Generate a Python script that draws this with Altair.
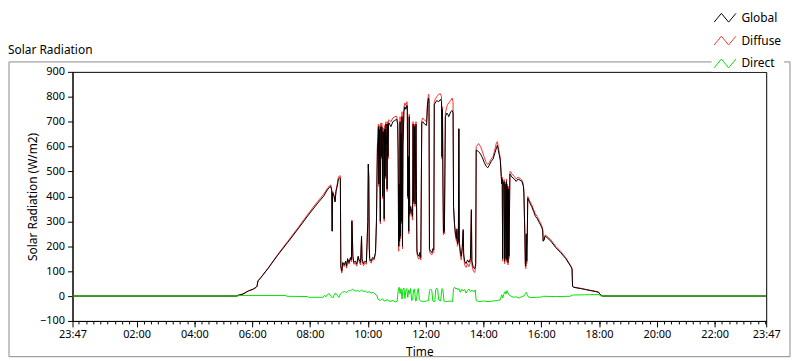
import altair as alt
import pandas as pd

# ---------------- data ----------------
times = [
    "23:47", "05:28", "05:31", "05:41", "05:52", "06:02", "06:08", "06:10", "06:12", "06:18",
    "06:33", "06:53", "07:14", "07:35", "07:55", "08:16", "08:28", "08:36", "08:40", "08:43",
    "08:45", "08:46", "08:47", "08:50", "08:52", "08:54", "08:57", "08:59", "09:02", "09:03",
    "09:04", "09:06", "09:08", "09:11", "09:14", "09:16", "09:18", "09:21", "09:24", "09:26",
    "09:27", "09:28", "09:29", "09:31", "09:34", "09:37", "09:40", "09:42", "09:45", "09:47",
    "09:48", "09:51", "09:54", "09:57", "10:00", "10:01", "10:02", "10:03", "10:04", "10:07",
    "10:10", "10:13", "10:16", "10:18", "10:19", "10:20", "10:21", "10:22", "10:23", "10:24",
    "10:25", "10:26", "10:27", "10:28", "10:29", "10:30", "10:31", "10:32", "10:33", "10:34",
    "10:35", "10:36", "10:37", "10:38", "10:39", "10:40", "10:41", "10:42", "10:43",
    "10:44", "10:48", "10:52", "10:56", "11:00", "11:02", "11:03", "11:04", "11:05", "11:06",
    "11:07", "11:08", "11:09", "11:10", "11:11", "11:12", "11:13", "11:15", "11:17", "11:19",
    "11:21", "11:22", "11:23", "11:24", "11:25", "11:26", "11:27", "11:29", "11:31", "11:33",
    "11:34", "11:35", "11:37", "11:38", "11:40", "11:41", "11:42", "11:44", "11:46", "11:48",
    "11:50", "11:52", "11:54", "11:58", "12:02", "12:04", "12:06", "12:07", "12:08", "12:10",
    "12:13", "12:15", "12:17", "12:18", "12:20", "12:23", "12:27", "12:31", "12:33", "12:34",
    "12:35", "12:36", "12:37", "12:38", "12:39", "12:41", "12:44", "12:46", "12:48", "12:52",
    "12:55", "12:57", "12:58", "13:00", "13:02", "13:04", "13:05", "13:06", "13:08", "13:09",
    "13:10", "13:12", "13:14", "13:16", "13:18", "13:19", "13:21", "13:24", "13:27", "13:30",
    "13:33", "13:35", "13:36", "13:39", "13:42", "13:44", "13:45", "13:50", "13:54", "13:58",
    "14:02", "14:06", "14:09", "14:12", "14:16", "14:20", "14:24", "14:27", "14:29", "14:31",
    "14:33", "14:35", "14:37", "14:38", "14:39", "14:40", "14:41", "14:43", "14:44", "14:45",
    "14:47", "14:48", "14:49", "14:50", "14:51", "14:52", "14:53", "14:55", "14:57", "14:59",
    "15:04", "15:08", "15:12", "15:16", "15:20", "15:23", "15:24", "15:26", "15:27", "15:28",
    "15:29", "15:30", "15:31", "15:32", "15:36", "15:40", "15:44", "15:48", "15:52", "15:56",
    "16:00", "16:03", "16:04", "16:06", "16:08", "16:10", "16:20", "16:30", "16:40", "16:51",
    "17:01", "17:04", "17:05", "17:07", "17:22", "17:32", "17:42", "17:53", "17:59", "18:03",
    "18:07", "23:47",
]

global_vals = [
    0, 0, 3, 8, 20, 28, 35, 40, 61, 74,
    111, 164, 216, 269, 321, 373, 400, 426, 436, 440,
    425, 260, 415, 400, 378, 420, 445, 470, 475, 470,
    120, 100, 135, 125, 140, 120, 150, 135, 155, 145,
    300, 240, 160, 135, 140, 128, 160, 145, 135, 240,
    150, 130, 140, 135, 300, 530, 480, 200, 150, 140,
    155, 150, 175, 300, 466, 600, 620, 680, 450, 670,
    520, 300, 680, 560, 680, 650, 400, 660, 620, 310,
    670, 480, 680, 690, 600, 430, 690, 560, 690,
    695, 680, 700, 705, 710, 690, 570, 200, 450, 220,
    700, 240, 650, 300, 720, 200, 600, 740, 760, 750,
    765, 760, 400, 560, 260, 720, 330, 360, 340, 320,
    690, 380, 680, 370, 690, 420, 180, 165, 160, 175,
    155, 695, 700, 690, 685, 770, 795, 785, 190, 180,
    175, 190, 185, 770, 775, 785, 780, 790, 780, 560,
    750, 450, 255, 280, 260, 720, 735, 730, 720, 740,
    745, 735, 360, 290, 250, 230, 270, 210, 220, 672,
    220, 180, 160, 195, 267, 170, 140, 130, 145, 135,
    150, 347, 140, 115, 110, 130, 586, 580, 570, 555,
    535, 520, 515, 525, 540, 550, 575, 595, 605, 585,
    565, 545, 480, 450, 470, 150, 440, 460, 140, 450,
    150, 460, 145, 440, 135, 430, 160, 490, 485, 478,
    470, 460, 470, 465, 460, 440, 414, 250, 130, 120,
    250, 140, 230, 393, 375, 360, 340, 320, 310, 295,
    280, 265, 220, 225, 240, 238, 220, 195, 175, 150,
    120, 108, 40, 35, 30, 26, 22, 18, 15, 5,
    0, 0,
]

diffuse_vals = [
    0, 0, 3, 9, 21, 27, 34, 38, 60, 74,
    112, 167, 220, 274, 327, 380, 408, 432, 442, 446,
    430, 262, 420, 405, 380, 425, 455, 478, 484, 482,
    115, 92, 130, 118, 135, 112, 145, 128, 150, 138,
    305, 235, 152, 128, 132, 120, 155, 138, 125, 235,
    142, 122, 132, 128, 295, 525, 470, 190, 140, 132,
    148, 145, 170, 305, 470, 610, 640, 690, 440, 685,
    510, 290, 695, 550, 695, 665, 390, 675, 630, 300,
    685, 470, 695, 700, 610, 420, 700, 550, 705,
    708, 700, 715, 720, 722, 700, 560, 180, 440, 200,
    720, 230, 660, 290, 740, 190, 610, 760, 775, 765,
    780, 770, 390, 550, 250, 730, 320, 350, 330, 305,
    700, 370, 690, 360, 700, 410, 170, 155, 148, 165,
    145, 705, 715, 705, 700, 780, 810, 800, 180, 170,
    165, 180, 175, 780, 790, 800, 810, 812, 800, 550,
    760, 440, 245, 270, 250, 735, 760, 770, 775, 785,
    795, 780, 355, 280, 240, 220, 260, 200, 210, 670,
    205, 165, 145, 185, 260, 160, 125, 115, 130, 118,
    135, 340, 125, 100, 95, 120, 600, 612, 600, 580,
    555, 535, 528, 535, 550, 560, 590, 615, 620, 598,
    575, 555, 490, 455, 478, 140, 450, 468, 130, 458,
    140, 470, 135, 450, 125, 440, 150, 500, 498, 490,
    480, 470, 478, 472, 465, 448, 420, 240, 120, 110,
    245, 130, 225, 400, 382, 368, 348, 330, 318, 302,
    288, 270, 222, 228, 245, 243, 226, 200, 180, 154,
    122, 110, 42, 36, 31, 27, 23, 19, 16, 5,
    0, 0,
]

direct_times = [
    "23:47", "05:30", "05:32", "07:10", "07:12", "07:55", "07:57", "08:27", "08:30", "08:33",
    "08:36", "08:40", "08:43", "08:47", "08:50", "08:53", "08:57", "09:00", "09:03", "09:07",
    "09:12", "09:16", "09:20", "09:24", "09:28", "09:31", "09:35", "09:39", "09:43", "09:47",
    "09:51", "09:55", "09:59", "10:03", "10:07", "10:11", "10:15", "10:19", "10:21", "10:26",
    "10:30", "10:34", "10:40", "10:46", "10:52", "10:58", "11:01", "11:03", "11:05", "11:07",
    "11:09", "11:11", "11:13", "11:15", "11:17", "11:19", "11:21", "11:23", "11:25", "11:27",
    "11:29", "11:31", "11:33", "11:35", "11:37", "11:39", "11:41", "11:43", "11:45", "11:47",
    "11:50", "11:56", "12:02", "12:06", "12:08", "12:10", "12:13", "12:15", "12:19", "12:21",
    "12:23", "12:25", "12:27", "12:31", "12:34", "12:36", "12:38", "12:44", "12:50", "12:56",
    "12:58", "13:00", "13:03", "13:05", "13:07", "13:09", "13:12", "13:15", "13:18", "13:21",
    "13:24", "13:27", "13:30", "13:33", "13:36", "13:40", "13:43", "13:45", "13:50", "14:00",
    "14:10", "14:20", "14:30", "14:35", "14:38", "14:40", "14:43", "14:45", "14:47", "14:49",
    "14:51", "14:53", "14:57", "15:02", "15:08", "15:14", "15:20", "15:24", "15:27", "15:29",
    "15:31", "15:34", "15:40", "15:50", "16:00", "16:05", "16:30", "17:00", "17:05", "17:30",
    "18:00", "18:03", "23:47",
]

direct_vals = [
    0, 0, 2, 2, -1, -2, -5, -5, 2, -3,
    6, 10, 0, -8, 4, 12, 2, -6, 8, 15,
    18, 14, 22, 20, 28, 24, 20, 22, 18, 24,
    18, 20, 14, 18, 12, 15, 8, 2, -12, -18,
    -10, -20, -15, -22, -18, -24, -20, 20, 35, 10,
    30, -12, 28, 32, -10, 25, 30, -5, 25, 10,
    30, -18, -15, 25, 28, -20, -18, 20, 30, -15,
    -20, -22, -20, -18, 22, 28, 20, -20, -22, 25,
    32, 28, -15, -20, 30, 25, -20, -22, -20, -22,
    30, 35, 28, 32, 25, 30, 15, 28, 20, 26,
    12, 22, 28, 18, 24, 16, 25, -18, -22, -20,
    -22, -20, -18, -15, 5, -8, 10, 18, 8, 22,
    12, 5, 0, -5, -3, -8, -2, 0, 10, 15,
    5, -5, -6, -5, -4, -1, -2, -1, 4, 5,
    6, 0, 0,
]

series_names = ["Global", "Diffuse", "Direct"]
series_colors = ["#000000", "#ff3030", "#00e400"]


# minutes elapsed since the chart start (23:47 of the previous day)
def to_offset(ts):
    out, prev = [], -1
    for s in ts:
        h, m = map(int, s.split(":"))
        v = (h * 60 + m - (23 * 60 + 47)) % 1440
        if prev >= 0 and v <= prev:
            v += 1440
        out.append(v)
        prev = v
    return out


t_main = to_offset(times)
t_direct = to_offset(direct_times)
df = pd.concat([
    pd.DataFrame({"t": t_main, "value": global_vals, "series": "Global"}),
    pd.DataFrame({"t": t_main, "value": diffuse_vals, "series": "Diffuse"}),
    pd.DataFrame({"t": t_direct, "value": direct_vals, "series": "Direct"}),
], ignore_index=True)

# ---------------- scales / axes ----------------
FONT = "Noto Sans"
x_scale = alt.Scale(domain=[0, 1440], nice=False, zero=False)
y_scale = alt.Scale(domain=[-100, 900], nice=False, zero=False)
color_scale = alt.Scale(domain=series_names, range=series_colors)

major_ticks = [0] + [133 + 120 * i for i in range(11)] + [1440]
minor_ticks = [13 + 15 * i for i in range(96)]

label_expr = ("(datum.value == 0 || datum.value >= 1440) ? '23:47' : "
              "timeFormat(datetime(2000, 0, 1, 23, 47 + datum.value), '%H:%M')")

x_major = alt.Axis(orient="bottom", values=major_ticks, labelExpr=label_expr,
                   tickSize=6, labelPadding=2, title="Time", titleY=31,
                   titleBaseline="middle", labelFlush=False, labelOverlap=False)
x_minor = alt.Axis(orient="bottom", values=minor_ticks, labels=False, tickSize=3,
                   domain=False, title=None)
y_axis = alt.Axis(values=list(range(-100, 1000, 100)), tickSize=5, labelPadding=3,
                  title="Solar Radiation (W/m2)", titleX=-40, titleY=125.5,
                  titleAngle=-90, titleBaseline="middle", titleAlign="center")

zigzag = "M -1 0.4 L -0.33 -0.4 L 0.33 0.4 L 1 -0.4"
legend = alt.Legend(orient="none", legendX=644, legendY=-68, title=None,
                    symbolType=zigzag, symbolSize=484, symbolStrokeWidth=1,
                    symbolFillColor="transparent",
                    labelFont=FONT, labelFontSize=12, labelOffset=5,
                    rowPadding=5, padding=2, fillColor="white")


def line_layer(name, xaxis):
    return (
        alt.Chart(df)
        .transform_filter(alt.datum.series == name)
        .mark_line(strokeWidth=1, interpolate="linear")
        .encode(
            x=alt.X("t:Q", scale=x_scale, axis=xaxis),
            y=alt.Y("value:Q", scale=y_scale, axis=y_axis),
            color=alt.Color("series:N", scale=color_scale, legend=legend),
        )
    )


frame = (
    alt.Chart(alt.Data(values=[{}]))
    .mark_rect(fillOpacity=0, stroke="#8a8a8a", strokeWidth=1)
    .encode(x=alt.value(-64), x2=alt.value(723), y=alt.value(-10), y2=alt.value(287))
)

chart = (
    alt.layer(
        frame,
        line_layer("Diffuse", x_minor),
        line_layer("Global", x_major),
        line_layer("Direct", None),
    )
    .resolve_axis(x="independent")
    .properties(
        width=699,
        height=251,
        autosize=alt.AutoSizeParams(type="none"),
        padding={"left": 65, "top": 63, "right": 26, "bottom": 38},
        title=alt.TitleParams("Solar Radiation", anchor="start", frame="group",
                              dx=-65, dy=65, offset=0, font=FONT, fontSize=12,
                              fontWeight="normal", color="black", baseline="bottom"),
    )
    .configure_view(stroke="black", strokeWidth=1)
    .configure_axis(domainColor="black", tickColor="black", labelColor="black",
                    titleColor="black", labelFont=FONT, titleFont=FONT,
                    labelFontSize=11, titleFontSize=12, titleFontWeight="normal",
                    grid=False)
)

chart.save("out.html", embed_options={"renderer": "svg", "actions": False})
